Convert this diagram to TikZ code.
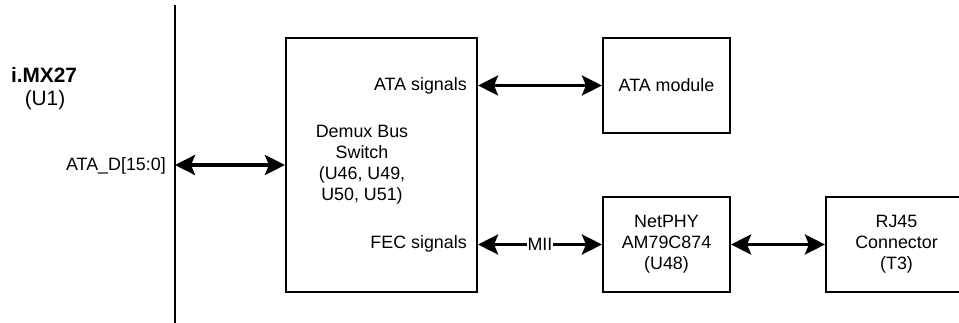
\documentclass[tikz,border=0pt]{standalone}
\usepackage{fontspec}
\setmainfont{Liberation Sans}
\usetikzlibrary{arrows.meta}
\begin{document}
\begin{tikzpicture}[x=0.75pt,y=-0.75pt,
  every node/.style={font=\fontsize{13.4}{15.75}\selectfont},
  blockbox/.style={draw, line width=1.6pt, rectangle, inner sep=0pt, align=center},
  bus/.style={line width=2.6pt, {Stealth[length=15pt,width=15pt,inset=3pt]}-{Stealth[length=15pt,width=15pt,inset=3pt]}},
  lbl/.style={inner sep=0pt},
  biglbl/.style={inner sep=0pt, font=\fontsize{15.6}{18}\selectfont}
]
\useasboundingbox (0,0) rectangle (959,323);
\clip (0,0) rectangle (959,323);
% CPU edge
\coordinate (busTop) at (175,5);
\coordinate (busBot) at (175,323);
\draw[line width=1.6pt] (busTop) -- (busBot);
\node[biglbl, font=\fontsize{15.6}{18}\selectfont\bfseries] (cpu) at (44,75) {i.MX27};
\node[biglbl] (cpuref) at (45,100) {(U1)};
\node[lbl, anchor=east] (atad) at (166,166) {ATA\_D[15:0]};
% boxes
\node[blockbox, minimum width=143.25pt, minimum height=190.5pt] (demux) at (381.5,165) {};
\node[blockbox, minimum width=95.25pt, minimum height=71.25pt] (ata) at (666.5,85.5) {ATA module};
\node[blockbox, minimum width=95.25pt, minimum height=71.25pt] (phy) at (666.5,244.5) {NetPHY\\AM79C874\\(U48)};
\node[blockbox, minimum width=105.75pt, minimum height=71.25pt] (rj) at (896.5,244.5) {RJ45\\Connector\\(T3)};
% demux texts
\node[lbl, align=center] (demuxtxt) at (362,165) {Demux Bus\\Switch\\(U46, U49,\\U50, U51)};
\node[lbl, anchor=east] (atasig) at (467,86) {ATA signals};
\node[lbl, anchor=east] (fecsig) at (467,244) {FEC signals};
% connectors
\draw[bus] (demux.west) -- (demux.west -| busTop);
\draw[bus] (ata.west -| demux.east) -- (ata.west);
\draw[bus] (phy.west -| demux.east) -- node[fill=white, inner sep=0.5pt] (mii) {MII} (phy.west);
\draw[bus] (phy.east) -- (rj.west);
\end{tikzpicture}
\end{document}
